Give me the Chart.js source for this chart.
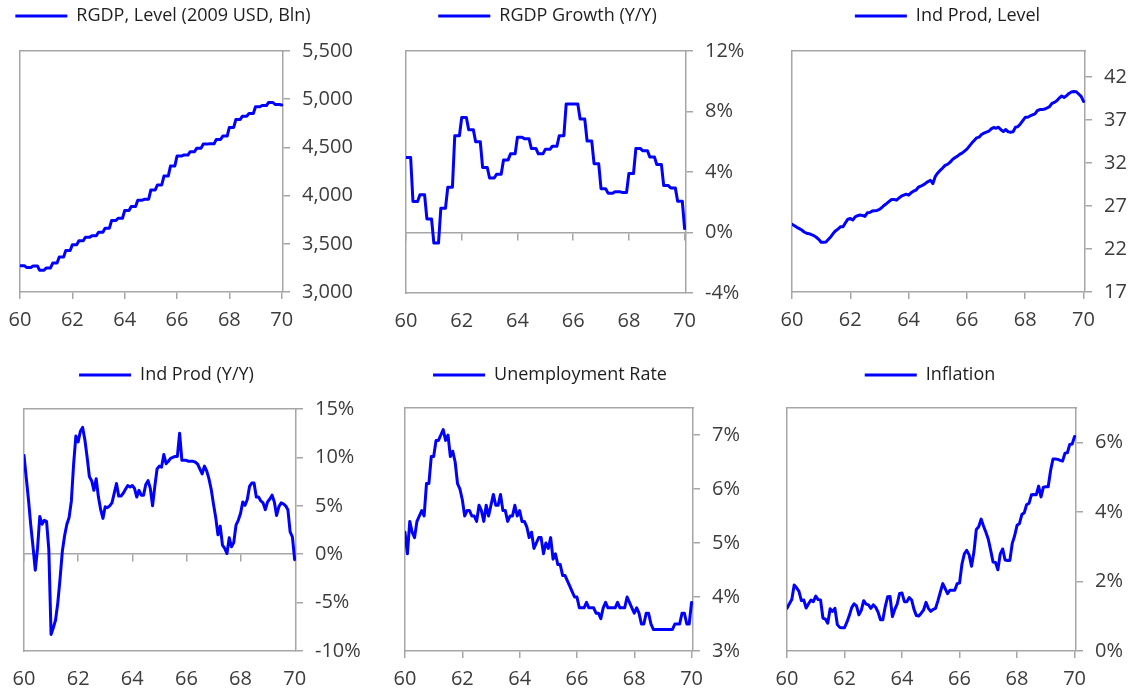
<!DOCTYPE html>
<html><head><meta charset="utf-8">
<script src="https://cdn.jsdelivr.net/npm/chart.js@4.4.1/dist/chart.umd.min.js"></script>
<style>
html,body{margin:0;padding:0;background:#fff;}
body{width:1135px;height:691px;position:relative;overflow:hidden;}
canvas{position:absolute;}
</style></head>
<body>
<canvas id="c1"></canvas><canvas id="c2"></canvas><canvas id="c3"></canvas>
<canvas id="c4"></canvas><canvas id="c5"></canvas><canvas id="c6"></canvas>
<script>
// ---------- DATA (monthly, Jan 1960 .. Jan 1970) ----------
const xTicks = [60, 62, 64, 66, 68, 70];

const rgdpLevelLabel = 'RGDP, Level (2009 USD, Bln)';
const rgdpLevel = [
 3272,3272,3272,3255,3255,3255,3270,3270,3270,3225,3225,3225,
 3250,3250,3250,3300,3300,3300,3362,3362,3362,3431,3431,3431,
 3490,3490,3490,3531,3531,3531,3569,3569,3569,3583,3583,3583,
 3620,3620,3620,3662,3662,3662,3741,3741,3741,3765,3765,3765,
 3845,3845,3845,3886,3886,3886,3952,3952,3952,3962,3962,3962,
 4059,4059,4059,4110,4110,4110,4203,4203,4203,4307,4307,4307,
 4410,4410,4410,4420,4420,4420,4455,4455,4455,4490,4490,4490,
 4534,4534,4534,4537,4537,4537,4583,4583,4583,4617,4617,4617,
 4707,4707,4707,4790,4790,4790,4824,4824,4824,4852,4852,4852,
 4921,4921,4921,4934,4934,4934,4966,4966,4966,4945,4945,4945,
 4940];
const rgdpLevelTicks = [3000, 3500, 4000, 4500, 5000, 5500];

const rgdpGrowthLabel = 'RGDP Growth (Y/Y)';
const rgdpGrowth = [
 4.96,4.96,4.96,2.05,2.05,2.05,2.5,2.5,2.5,0.9,0.9,0.9,
 -0.7,-0.7,-0.7,1.6,1.6,1.6,3.0,3.0,3.0,6.4,6.4,6.4,
 7.6,7.6,7.6,6.8,6.8,6.8,6.0,6.0,6.0,4.3,4.3,4.3,
 3.6,3.6,3.6,3.85,3.85,3.85,4.8,4.8,4.8,5.2,5.2,5.2,
 6.3,6.3,6.3,6.2,6.2,6.2,5.55,5.55,5.55,5.2,5.2,5.2,
 5.5,5.5,5.5,5.7,5.7,5.7,6.4,6.4,6.4,8.5,8.5,8.5,
 8.5,8.5,8.5,7.5,7.5,7.5,6.05,6.05,6.05,4.55,4.55,4.55,
 2.9,2.9,2.9,2.6,2.6,2.6,2.7,2.7,2.7,2.65,2.65,2.65,
 3.9,3.9,3.9,5.55,5.55,5.55,5.4,5.4,5.4,5.0,5.0,5.0,
 4.5,4.5,4.5,3.1,3.1,3.1,2.95,2.95,2.95,2.07,2.07,2.07,
 0.26];
const rgdpGrowthTicks = [-4, 0, 4, 8, 12];

const indProdLevelLabel = 'Ind Prod, Level';
const indProdLevel = [
 24.86,24.70,24.51,24.36,24.20,23.97,23.82,23.78,23.66,23.55,23.36,23.12,
 22.78,22.78,22.82,23.12,23.43,23.82,24.13,24.32,24.59,24.59,25.05,25.47,
 25.55,25.36,25.74,25.86,25.94,25.90,25.78,26.20,26.24,26.40,26.44,26.48,
 26.60,26.82,27.09,27.29,27.52,27.75,27.75,27.67,27.90,28.13,28.25,28.36,
 28.25,28.52,28.71,28.83,29.17,29.29,29.44,29.63,29.83,29.98,29.60,30.44,
 30.83,31.14,31.41,31.71,31.83,32.06,32.37,32.60,32.76,32.99,33.14,33.37,
 33.60,33.95,34.30,34.60,34.91,34.99,35.30,35.45,35.57,35.68,35.95,36.11,
 36.03,36.14,35.84,35.64,35.88,35.61,35.57,35.61,36.14,36.22,36.53,36.92,
 37.30,37.30,37.45,37.57,37.69,38.07,38.19,38.19,38.26,38.38,38.53,38.92,
 39.03,39.23,39.53,39.77,39.61,39.80,40.07,40.23,40.30,40.27,40.00,39.73,
 39.15];
const indProdLevelTicks = [17, 22, 27, 32, 37, 42];

const indProdYoYLabel = 'Ind Prod (Y/Y)';
const indProdYoY = [
 10.2,7.9,5.6,3.0,0.76,-1.65,0.6,3.9,3.1,3.5,3.4,0.5,
 -8.3,-7.6,-6.8,-5.0,-2.5,0.3,1.9,3.1,3.8,5.5,9.3,12.2,
 11.6,12.7,13.1,11.8,10.0,8.0,7.6,6.6,7.8,5.9,4.6,3.7,
 4.9,4.8,5.0,5.3,6.3,7.3,6.0,6.0,6.3,6.7,7.1,6.95,
 7.1,6.8,5.9,6.6,6.1,6.1,7.2,7.6,6.8,5.0,7.0,8.8,
 9.1,9.0,10.3,9.35,9.6,9.9,10.0,10.1,10.1,12.5,9.7,9.7,
 9.7,9.6,9.6,9.6,9.5,9.3,8.8,8.3,9.1,8.6,7.8,6.7,
 5.2,3.8,2.0,2.9,0.93,0.6,0.07,1.7,0.76,1.2,3.0,3.5,
 4.2,5.4,5.05,5.65,7.0,7.35,7.35,5.9,5.9,5.5,5.3,4.6,
 5.4,5.7,6.1,5.4,4.0,4.9,5.3,5.2,5.0,4.6,2.3,1.8,
 -0.55];
const indProdYoYTicks = [-10, -5, 0, 5, 10, 15];

const unemploymentLabel = 'Unemployment Rate';
const unemployment = [
 5.2,4.8,5.4,5.2,5.1,5.4,5.5,5.6,5.5,6.1,6.1,6.6,
 6.6,6.9,6.9,7.0,7.1,6.9,7.0,6.6,6.7,6.5,6.1,6.0,
 5.8,5.5,5.6,5.6,5.5,5.5,5.4,5.7,5.6,5.4,5.7,5.5,
 5.7,5.9,5.7,5.7,5.9,5.6,5.6,5.4,5.5,5.5,5.7,5.5,
 5.6,5.4,5.4,5.3,5.1,5.2,4.9,5.0,5.1,5.1,4.8,5.0,
 4.9,5.1,4.7,4.8,4.6,4.6,4.4,4.4,4.3,4.2,4.1,4.0,
 4.0,3.8,3.8,3.8,3.9,3.8,3.8,3.8,3.7,3.7,3.6,3.8,
 3.9,3.8,3.8,3.8,3.8,3.9,3.8,3.8,3.8,4.0,3.9,3.8,
 3.7,3.8,3.7,3.5,3.5,3.7,3.7,3.5,3.4,3.4,3.4,3.4,
 3.4,3.4,3.4,3.4,3.4,3.5,3.5,3.5,3.7,3.7,3.5,3.5,
 3.9];
const unemploymentTicks = [3, 4, 5, 6, 7];

const inflationLabel = 'Inflation';
const inflation = [
 1.23,1.36,1.48,1.90,1.82,1.72,1.45,1.47,1.24,1.36,1.47,1.42,
 1.58,1.48,1.47,0.95,0.92,0.80,1.22,1.14,1.23,0.76,0.68,0.67,
 0.67,0.83,1.02,1.25,1.36,1.30,1.04,1.17,1.45,1.35,1.33,1.23,
 1.33,1.26,1.12,0.90,0.90,1.28,1.56,1.57,0.99,1.20,1.36,1.66,
 1.67,1.42,1.42,1.54,1.47,1.20,1.02,1.01,1.09,1.18,1.40,1.23,
 1.14,1.20,1.23,1.45,1.70,1.94,1.80,1.65,1.75,1.75,1.75,1.94,
 1.96,2.50,2.80,2.90,2.77,2.44,2.85,3.50,3.58,3.80,3.60,3.42,
 3.22,2.90,2.56,2.55,2.34,2.80,2.94,2.62,2.61,2.61,3.10,3.32,
 3.62,3.67,3.93,3.98,4.22,4.25,4.50,4.51,4.50,4.75,4.44,4.72,
 4.73,4.73,5.20,5.53,5.53,5.52,5.49,5.47,5.70,5.71,5.95,5.96,
 6.18];
const inflationTicks = [0, 2, 4, 6];

// ---------- STYLE / LAYOUT ----------
const BLUE = '#0000FF';
const GRAY = '#a6a6a6';
const TICK_COLOR = '#3c3c3c';
const LEGEND_COLOR = '#1e1e1e';
Chart.defaults.font.family = "'Open Sans', 'DejaVu Sans', sans-serif";

const pct = v => v + '%';
const WR = 80; // right axis box width (holds the tick labels)
const panels = [
  {id:'c1', label:rgdpLevelLabel, values:rgdpLevel, ticks:rgdpLevelTicks, min:3000, max:5500, fmt:v=>v.toLocaleString('en-US'), zero:false,
   x:-40, y:0, w:403, h:345, pl:3, wL:57, hT:16, hB:53},
  {id:'c2', label:rgdpGrowthLabel, values:rgdpGrowth, ticks:rgdpGrowthTicks, min:-4, max:12, fmt:pct, zero:true,
   x:325, y:0, w:441, h:345, pl:4, wL:77, hT:16, hB:52},
  {id:'c3', label:indProdLevelLabel, values:indProdLevel, ticks:indProdLevelTicks, min:17, max:45, fmt:v=>String(v), zero:false,
   x:727, y:0, w:438, h:345, pl:3, wL:62, hT:16, hB:53},
  {id:'c4', label:indProdYoYLabel, values:indProdYoY, ticks:indProdYoYTicks, min:-10, max:15, fmt:pct, zero:true,
   x:-46, y:359, w:422, h:332, pl:3, wL:67, hT:15, hB:40},
  {id:'c5', label:unemploymentLabel, values:unemployment, ticks:unemploymentTicks, min:3, max:7.5, fmt:pct, zero:false,
   x:324, y:359, w:449, h:332, pl:3, wL:78, hT:14, hB:40},
  {id:'c6', label:inflationLabel, values:inflation, ticks:inflationTicks, min:0, max:7, fmt:pct, zero:false,
   x:701, y:359, w:455, h:332, pl:3, wL:83, hT:14, hB:40},
];

const X_MIN = 60, X_MAX = 70.05;

panels.forEach(p => {
  const cv = document.getElementById(p.id);
  cv.width = p.w; cv.height = p.h;
  cv.style.left = p.x + 'px'; cv.style.top = p.y + 'px';
  cv.style.width = p.w + 'px'; cv.style.height = p.h + 'px';

  const setX = s => { s.ticks = xTicks.map(v => ({value: v})); };
  const setY = s => { s.ticks = p.ticks.map(v => ({value: v})); };

  const scales = {
    x: {
      type: 'linear', position: 'bottom', min: X_MIN, max: X_MAX,
      afterBuildTicks: setX,
      afterFit: s => { s.height = p.hB; },
      ticks: {color: TICK_COLOR, font: {size: 20}, padding: 9, autoSkip: false, maxRotation: 0, callback: v => String(v)},
      grid: {display: true, drawOnChartArea: false, drawTicks: true, tickLength: 7, tickWidth: 1.5,
             color: GRAY, tickColor: p.zero ? 'rgba(0,0,0,0)' : GRAY, lineWidth: 1.5},
      border: {display: true, color: GRAY, width: 1.5}
    },
    y: {
      type: 'linear', position: 'right', min: p.min, max: p.max,
      afterBuildTicks: setY,
      afterFit: s => { s.width = WR; },
      ticks: {color: TICK_COLOR, font: {size: 20}, padding: 12, autoSkip: false, callback: v => p.fmt(v)},
      grid: {display: true, drawOnChartArea: false, drawTicks: true, tickLength: 7, tickWidth: 1.5, color: GRAY, tickColor: GRAY, lineWidth: 1.5},
      border: {display: true, color: GRAY, width: 1.5}
    },
    xTop: {
      type: 'linear', position: 'top', min: X_MIN, max: X_MAX,
      afterFit: s => { s.height = p.hT; },
      ticks: {display: false}, grid: {display: false, drawTicks: false},
      border: {display: true, color: GRAY, width: 1.5}
    },
    yLeft: {
      type: 'linear', position: 'left', min: p.min, max: p.max,
      afterFit: s => { s.width = p.wL; },
      ticks: {display: false}, grid: {display: false, drawTicks: false},
      border: {display: true, color: GRAY, width: 1.5}
    }
  };
  if (p.zero) {
    scales.xZero = {
      type: 'linear', position: {y: 0}, min: X_MIN, max: X_MAX,
      afterBuildTicks: setX,
      ticks: {display: false},
      grid: {display: true, drawOnChartArea: false, drawTicks: true, tickLength: 7, tickWidth: 1.5, color: GRAY, tickColor: GRAY, lineWidth: 1.5},
      border: {display: true, color: GRAY, width: 1.5}
    };
  }

  new Chart(cv.getContext('2d'), {
    type: 'line',
    data: {
      datasets: [{
        label: p.label,
        data: p.values.map((v, i) => ({x: 60 + i / 12, y: v})),
        borderColor: BLUE, backgroundColor: BLUE, borderWidth: 3,
        pointRadius: 0, tension: 0, fill: false, borderJoinStyle: 'round', borderCapStyle: 'round',
        xAxisID: 'x', yAxisID: 'y'
      }]
    },
    options: {
      responsive: false, animation: false, devicePixelRatio: 1,
      layout: {padding: {top: 0, left: p.pl, right: 0, bottom: 0}},
      plugins: {
        tooltip: {enabled: false},
        legend: {
          display: true, position: 'top', align: 'center',
          labels: {
            boxWidth: 52, boxHeight: 3, padding: 7, color: LEGEND_COLOR, font: {size: 18},
            generateLabels: chart => Chart.defaults.plugins.legend.labels.generateLabels(chart)
              .map(l => Object.assign(l, {lineWidth: 0, fillStyle: BLUE, strokeStyle: BLUE}))
          }
        }
      },
      scales
    }
  });
});
</script>
</body></html>
